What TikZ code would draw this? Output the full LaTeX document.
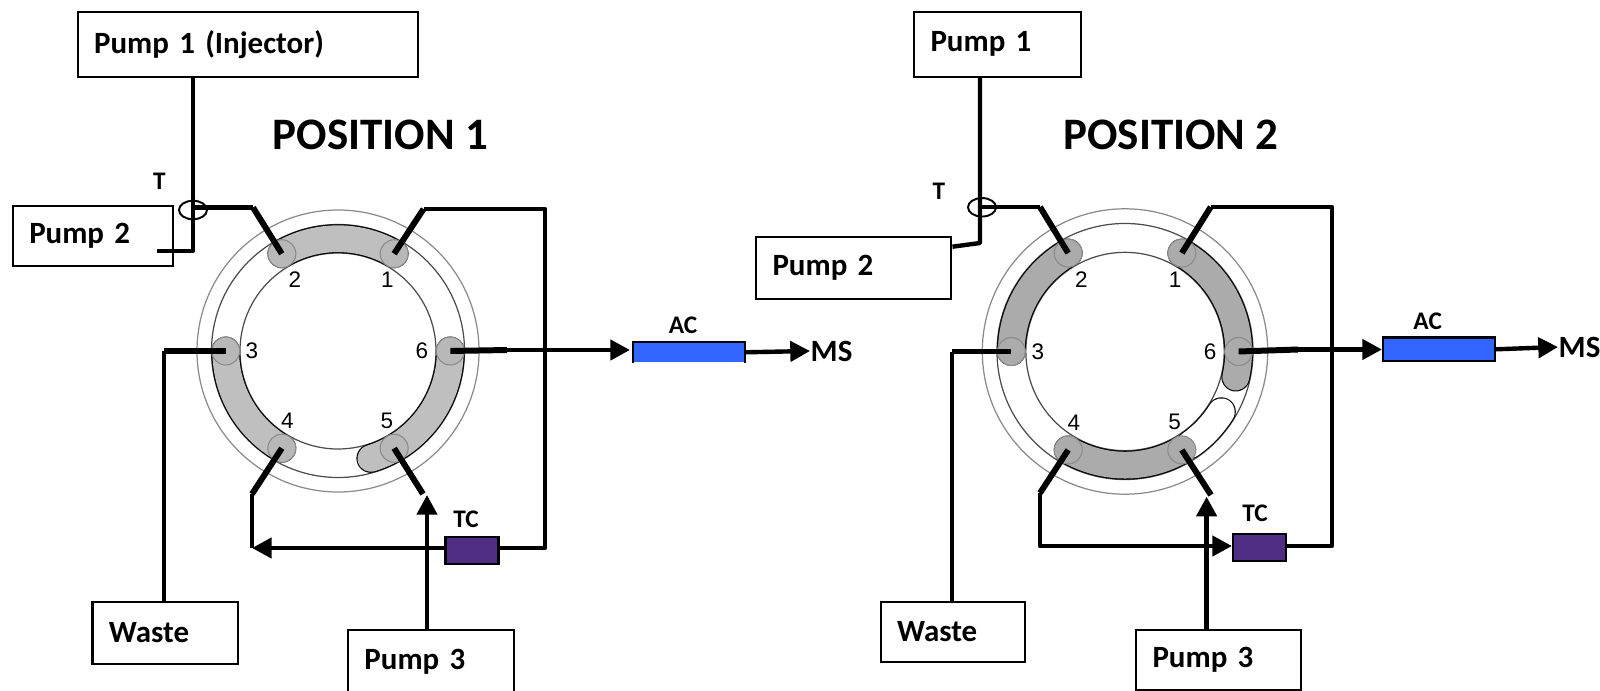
\documentclass[tikz,border=0pt]{standalone}
\usepackage{fontspec}
\setmainfont{Carlito}
\newfontfamily\portfont{Liberation Sans}
\usetikzlibrary{arrows.meta,shapes.geometric}
\definecolor{ringgray}{HTML}{8A8A8A}
\definecolor{acblue}{HTML}{3366FF}
\definecolor{tcpurple}{HTML}{4F2D83}
\tikzset{
	pumpbox/.style 2 args={draw,line width=.6pt,minimum width=#1*0.01cm,minimum height=#2*0.01cm,inner xsep=0.165cm,inner ysep=0pt,text width=#1*0.01cm-0.33cm,align=left,font=\fontsize{8.8}{10}\selectfont\bfseries},
	column/.style 2 args={draw=black,line width=.6pt,fill=#2,minimum width=#1*0.01cm,inner sep=0pt},
	tag/.style={font=\fontsize{7.2}{9}\selectfont\bfseries,inner sep=0pt},
	title/.style={font=\fontsize{12.8}{15}\selectfont\bfseries,inner sep=0pt},
	msname/.style={font=\fontsize{8.8}{10}\selectfont\bfseries,inner sep=0pt,anchor=west},
	tee/.style={draw,ellipse,line width=.55pt,inner sep=0pt,minimum width=.28cm,minimum height=.185cm},
	tube/.style={line width=1.25pt,line join=round},
	stub/.style={line width=1.7pt,line join=round},
	channel/.style={double=#1,double distance=7.6pt,line width=.3pt,line cap=round},
	port/.style={circle,draw=ringgray,line width=.3pt,fill=#1,inner sep=0pt,minimum size=.28cm},
	portnum/.style={font=\portfont\fontsize{6.4}{8}\selectfont,inner sep=0pt}
}
% rings and ports of one valve
\newcommand{\valverings}{
	\draw[ringgray,line width=.35pt] (0,0) circle(141);
	\draw[black!70,line width=.35pt] (0,0) circle(126.5);
	\draw[black!70,line width=.35pt] (0,0) circle(98);
}
\newcommand{\valveports}[2]{
	\foreach \n/\ang/\nx/\ny in {1/-60/49.5/-71,2/-120/-43/-71,3/180/-86/0,6/0/84/0,4/120/-50.5/70,5/60/49/70}{
		\node[port=#2] (#1\n) at (\ang:112.3) {};
		\node[portnum] (#1n\n) at (\nx,\ny) {\n};
	}
}
\begin{document}
\begin{tikzpicture}[x=0.01cm,y=-0.01cm,>={Triangle[length=5.6pt,width=5.7pt]}]
	\clip (0,0) rectangle (1600,691);
	% POSITION 1
	\node[title] (posa) at (380.5,135) {POSITION 1};
	\begin{scope}[shift={(338,351)}]
		\valverings
		\draw[channel=black!25] (-120:112.3) arc[start angle=-120,end angle=-60,radius=112.3];
		\draw[channel=black!25] (180:112.3) arc[start angle=180,end angle=120,radius=112.3];
		\draw[channel=black!25] (0:112.3) arc[start angle=0,end angle=73,radius=112.3];
		\valveports{a}{black!28}
	\end{scope}
	\node[pumpbox={340}{64.7}] (pumpaa) at (247.6,44.3) {Pump 1 (Injector)};
	\node[pumpbox={160.3}{59.7}] (pumpab) at (92.9,235.9) {Pump 2};
	\node[pumpbox={145.5}{62.3}] (wastea) at (165.2,632.9) {Waste};
	\node[pumpbox={165.7}{62.7}] (pumpac) at (430.8,661.6) {Pump 3};
	\node[tee] (teea) at (193,210) {};
	\node[tag] (teelabela) at (159.4,181.7) {T};
	\node[column={110}{acblue},minimum height=.19cm,draw=none] (aca) at (689,352.3) {};
	\draw[line width=.7pt] (aca.south west)--(aca.north west)--(aca.north east)--(aca.south east);
	\node[tag] (aclabela) at (683,325) {AC};
	\node[column={53}{tcpurple},minimum height=.27cm] (tca) at (472,550.3) {};
	\node[tag] (tclabela) at (466,519) {TC};
	\node[msname] (msa) at (810,351) {MS};
	\coordinate (teeat) at (193,250.7);
	\coordinate (teeaf) at (157,250.7);
	\coordinate (abend2) at (253,207.5);
	\coordinate (abend1) at (423.5,209);
	\coordinate (abendr) at (545,209);
	\coordinate (abendb) at (545,548);
	\coordinate (abend3) at (164,351);
	\coordinate (abend4) at (252,494);
	\coordinate (aturn) at (252,548);
	\coordinate (aend5) at (423,494);
	\coordinate (across) at (507,350);
	\draw[tube] (pumpaa.south -| teea.center)--(teeat)--(teeaf);
	\draw[tube] (teea.center |- abend2)--(abend2);
	\draw[stub] (abend2)--(a2.center);
	\draw[stub] (a1.center)--(abend1);
	\draw[tube] (abend1)--(abendr)--(abendb)--(tca.east |- abendb);
	\draw[tube,->] (tca.west |- abendb)--(aturn);
	\draw[stub] (a4.center)--(abend4);
	\draw[tube] (abend4)--(aturn);
	\draw[stub] (a5.center)--(aend5);
	\draw[tube,->] (pumpac.north -| 427,0)--(427,495);
	\draw[tube] (wastea.north -| abend3)--(abend3);
	\draw[stub] (abend3)--(a3.center);
	\draw[stub] (a6.center)--(across);
	\draw[tube,->] (across)--(630,350);
	\draw[tube,->] (aca.east)--(msa.west);
	% POSITION 2
	\node[title] (posb) at (1171,135) {POSITION 2};
	\begin{scope}[shift={(1125,351.5)},scale=1.012]
		\valverings
		\draw[channel=black!33] (-60:112.3) arc[start angle=-60,end angle=13,radius=112.3];
		\draw[channel=black!33] (-120:112.3) arc[start angle=-120,end angle=-180,radius=112.3];
		\draw[channel=black!33] (120:112.3) arc[start angle=120,end angle=60,radius=112.3];
		\draw[channel=white] (32:112.3) arc[start angle=32,end angle=55,radius=112.3];
		\valveports{b}{black!33}
	\end{scope}
	\node[pumpbox={167}{65}] (pumpba) at (997.5,44.2) {Pump 1};
	\node[pumpbox={195.4}{62.6}] (pumpbb) at (853.7,268) {Pump 2};
	\node[pumpbox={144.4}{60}] (wasteb) at (952.8,631.7) {Waste};
	\node[pumpbox={165}{59.7}] (pumpbc) at (1218.5,659.9) {Pump 3};
	\node[tee] (teeb) at (982,207.3) {};
	\node[tag] (teelabelb) at (939,191.7) {T};
	\node[column={112}{acblue},minimum height=.235cm] (acb) at (1439,349.3) {};
	\node[tag] (aclabelb) at (1427.7,321.7) {AC};
	\node[column={53}{tcpurple},minimum height=.27cm] (tcb) at (1259.5,547.5) {};
	\node[tag] (tclabelb) at (1255,513) {TC};
	\node[msname] (msb) at (1558,347) {MS};
	\coordinate (teebt) at (980,243);
	\coordinate (bbend2) at (1040,207);
	\coordinate (bbend1) at (1210.7,207);
	\coordinate (bbendr) at (1332,207);
	\coordinate (bbendb) at (1332,546);
	\coordinate (bbend3) at (952,351.5);
	\coordinate (bbend4) at (1040,493);
	\coordinate (bturn) at (1040,546);
	\coordinate (bend5) at (1211,495);
	\coordinate (bcross) at (1298,349.5);
	\draw[tube] (pumpba.south -| teebt)--(teebt)--(pumpbb.east |- 0,246.7);
	\draw[tube] (teeb.center |- bbend2)--(bbend2);
	\draw[stub] (bbend2)--(b2.center);
	\draw[stub] (b1.center)--(bbend1);
	\draw[tube] (bbend1)--(bbendr)--(bbendb)--(tcb.east |- bbendb);
	\draw[stub] (b4.center)--(bbend4);
	\draw[tube,->] (bbend4)--(bturn)--(tcb.west |- bturn);
	\draw[stub] (b5.center)--(bend5);
	\draw[tube,->] (pumpbc.north -| 1206.6,0)--(1206.6,496.7);
	\draw[tube] (wasteb.north -| bbend3)--(bbend3);
	\draw[stub] (bbend3)--(b3.center);
	\draw[stub] (b6.center)--(bcross);
	\draw[tube,->] (bcross)--(acb.west |- bcross);
	\draw[tube,->] (acb.east)--(msb.west);
\end{tikzpicture}
\end{document}
